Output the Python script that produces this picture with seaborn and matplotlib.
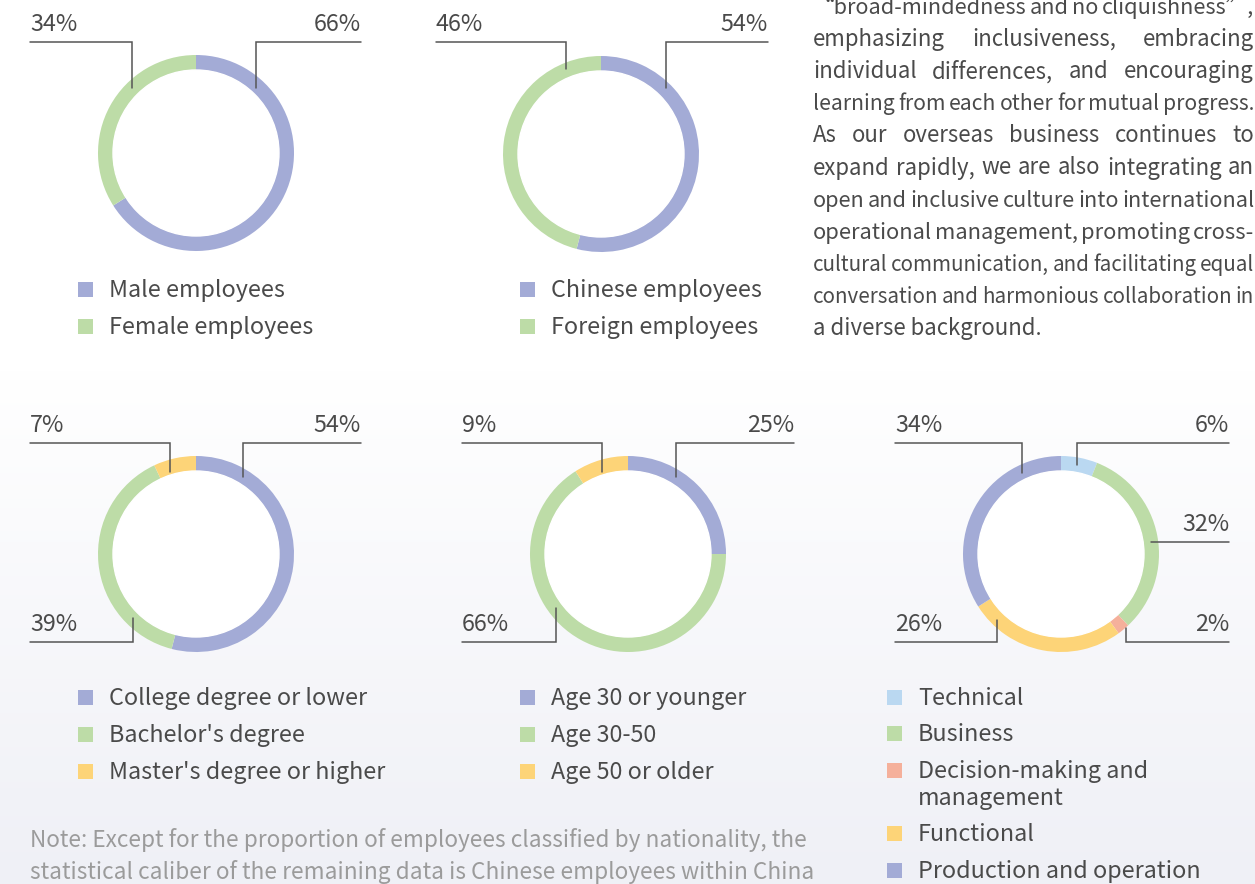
import numpy as np
import matplotlib
matplotlib.use("Agg")
import matplotlib.pyplot as plt
from matplotlib.patches import Circle, Rectangle
import seaborn as sns

sns.set_theme(style="white")
plt.rcParams["font.family"] = ["Noto Sans CJK SC", "DejaVu Sans"]

# %% data
gender_labels = ["Male employees", "Female employees"]
gender_values = [66, 34]

nation_labels = ["Chinese employees", "Foreign employees"]
nation_values = [54, 46]

edu_labels = ["College degree or lower", "Bachelor's degree", "Master's degree or higher"]
edu_values = [54, 39, 7]

age_labels = ["Age 30 or younger", "Age 30-50", "Age 50 or older"]
age_values = [25, 66, 9]

role_labels = ["Technical", "Business", "Decision-making and\nmanagement",
               "Functional", "Production and operation"]
role_values = [6, 32, 2, 26, 34]

paragraph = [
    "\u201cbroad-mindedness and no cliquishness\u201d,",
    "emphasizing inclusiveness, embracing",
    "individual differences, and encouraging",
    "learning from each other for mutual progress.",
    "As our overseas business continues to",
    "expand rapidly, we are also integrating an",
    "open and inclusive culture into international",
    "operational management, promoting cross-",
    "cultural communication, and facilitating equal",
    "conversation and harmonious collaboration in",
    "a diverse background.",
]
note = ["Note: Except for the proportion of employees classified by nationality, the",
        "statistical caliber of the remaining data is Chinese employees within China"]

# %% colours
purple = "#a3abd6"
green = "#bddca7"
yellow = "#fdd478"
sky = "#bad8f1"
salmon = "#f5b09b"
text_c = "#4a4a4a"
line_c = "#555555"

W, H = 1255, 884
R = 98
RING = 15

# chart layout: centre, label x-range, callouts (index, side, y_line, x_elbow, y_end)
charts = [
    dict(values=gender_values, labels=gender_labels, colors=[purple, green],
         c=(196, 153), lx=30, rx=361, leg=(78, [289, 326]),
         calls=[(1, "L", 42, 132, 88), (0, "R", 42, 256, 88)]),
    dict(values=nation_values, labels=nation_labels, colors=[purple, green],
         c=(601, 154), lx=436, rx=768, leg=(520, [289, 326]),
         calls=[(1, "L", 42, 566, 69), (0, "R", 42, 666, 88)]),
    dict(values=edu_values, labels=edu_labels, colors=[purple, green, yellow],
         c=(196, 554), lx=30, rx=361, leg=(78, [697, 734, 771]),
         calls=[(2, "L", 443, 170, 472), (0, "R", 443, 243, 477), (1, "L", 642, 133, 618)]),
    dict(values=age_values, labels=age_labels, colors=[purple, green, yellow],
         c=(628, 554), lx=462, rx=794, leg=(520, [697, 734, 771]),
         calls=[(2, "L", 443, 602, 472), (0, "R", 443, 676, 477), (1, "L", 642, 556, 608)]),
    dict(values=role_values, labels=role_labels, colors=[sky, green, salmon, yellow, purple],
         c=(1061, 554), lx=895, rx=1229, leg=(887, [697, 733, 770, 833, 870]),
         calls=[(4, "L", 443, 1022, 473), (0, "R", 443, 1077, 465), (1, "R", 542, 1151, 542),
                (3, "L", 642, 997, 620), (2, "R", 642, 1126, 628)]),
]

fig = plt.figure(figsize=(W / 100, H / 100), dpi=100)

# background: white on top, soft grey-blue towards the bottom
bg = fig.add_axes([0, 0, 1, 1])
ys = np.arange(H)
t = np.clip((ys - 370) / (H - 370), 0, 1)[:, None, None]
top = np.array([1.0, 1.0, 1.0])
bot = np.array([239, 240, 246]) / 255
img = top * (1 - t) + bot * t
bg.imshow(img, extent=(0, W, H, 0), aspect="auto", zorder=0)
bg.set_xlim(0, W)
bg.set_ylim(H, 0)
bg.axis("off")

# overlay for text and leader lines
ov = fig.add_axes([0, 0, 1, 1], zorder=5)
ov.set_facecolor("none")
ov.set_xlim(0, W)
ov.set_ylim(H, 0)
ov.axis("off")

FS = 16.8

for ch in charts:
    cx, cy = ch["c"]
    ax = fig.add_axes([(cx - R) / W, 1 - (cy + R) / H, 2 * R / W, 2 * R / H], zorder=2)
    ax.pie(ch["values"], colors=ch["colors"], startangle=90, counterclock=False,
           radius=1, wedgeprops=dict(width=RING / R, edgecolor="none", linewidth=0))
    ax.add_patch(Circle((0, 0), 1 - RING / R, color="white", zorder=3))
    ax.set_xlim(-1, 1)
    ax.set_ylim(-1, 1)
    ax.set_aspect("equal")
    ax.axis("off")

    for idx, side, yl, xe, ye in ch["calls"]:
        lab = f"{ch['values'][idx]}%"
        if side == "L":
            ov.plot([ch["lx"], xe, xe], [yl, yl, ye], color=line_c, lw=1.1, solid_joinstyle="miter")
            ov.text(ch["lx"], yl - 11, lab, ha="left", va="baseline", fontsize=FS, color=text_c)
        else:
            ov.plot([ch["rx"], xe, xe], [yl, yl, ye], color=line_c, lw=1.1, solid_joinstyle="miter")
            ov.text(ch["rx"], yl - 11, lab, ha="right", va="baseline", fontsize=FS, color=text_c)

    sx, rows = ch["leg"]
    for lab, col, yc in zip(ch["labels"], ch["colors"], rows):
        ov.add_patch(Rectangle((sx, yc - 7.5), 15, 15, color=col, lw=0))
        for k, part in enumerate(lab.split("\n")):
            ov.text(sx + 31, yc + 8 + k * 27, part, ha="left", va="baseline",
                    fontsize=FS, color=text_c)

# paragraph, justified word by word
renderer = fig.canvas.get_renderer()
px, pr = 813, 1254
PFS = 16.0


def width(s, fs):
    tt = ov.text(0, 0, s, fontsize=fs)
    w = tt.get_window_extent(renderer=renderer).width
    tt.remove()
    return w


for i, line in enumerate(paragraph):
    yb = 14 + i * 32.1
    if i == len(paragraph) - 1:
        ov.text(px, yb, line, ha="left", va="baseline", fontsize=PFS, color=text_c)
        continue
    words = line.split(" ")
    fs = PFS
    while True:
        ws = [width(w, fs) for w in words]
        gap = (pr - px - sum(ws)) / (len(words) - 1)
        if gap >= 2.5 or fs < 12:
            break
        fs -= 0.2
    x = px
    for w, wd in zip(words, ws):
        ov.text(x, yb, w, ha="left", va="baseline", fontsize=fs, color=text_c)
        x += wd + gap

for i, line in enumerate(note):
    ov.text(30, 847 + i * 32, line, ha="left", va="baseline", fontsize=16.3, color="#9b9b9b")

fig.savefig("out.png", dpi=100)
